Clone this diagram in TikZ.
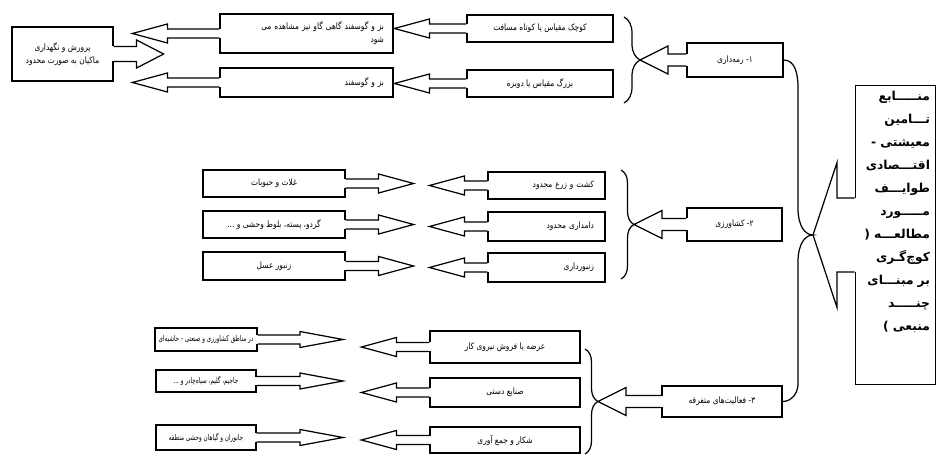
\documentclass[tikz,border=0pt]{standalone}
\usepackage{fontspec}
\newfontfamily\farsi[Script=Arabic]{DejaVu Sans}
\newfontfamily\farsicond[Script=Arabic,FakeStretch=0.85]{DejaVu Sans}
\newfontfamily\farsitight[Script=Arabic,FakeStretch=0.7]{DejaVu Sans}
\TeXXeTstate=1
\usepackage{tikz}
\usetikzlibrary{calc}
\usetikzlibrary{decorations.pathreplacing}
\newcommand{\fa}[1]{\mbox{\beginR #1\endR}}
% sizes of the hollow arrows
\def\arrsw{0.09cm}
\def\arrhw{0.19cm}
\def\arrhl{0.7cm}
\newcommand{\hollowarrow}[2]{%
  \fill[white] ($(#1)!-1pt!(#2)+(0,\arrsw)$) rectangle ($(#2)!\arrhl!(#1)+(0,-\arrsw)$);
  \draw ($(#1)+(0,\arrsw)$) -- ($(#2)!\arrhl!(#1)+(0,\arrsw)$) -- ($(#2)!\arrhl!(#1)+(0,\arrhw)$)
    -- (#2) -- ($(#2)!\arrhl!(#1)+(0,-\arrhw)$) -- ($(#2)!\arrhl!(#1)+(0,-\arrsw)$) -- ($(#1)+(0,-\arrsw)$);
}
\tikzset{
box/.style={
  draw,
  fill=white,
  rectangle,
  inner sep=2pt,
  align=center,
  font=\farsicond\fontsize{5}{7.5}\selectfont
},
tightbox/.style={box, font=\farsitight\fontsize{4.6}{7}\selectfont},
wh/.style 2 args={minimum width=#1*0.02cm, minimum height=#2*0.02cm},
srcbox/.style={
  draw,
  fill=white,
  rectangle,
  align=right,
  text width=1.38cm,
  font=\farsi\bfseries\fontsize{7}{13.1}\selectfont
},
curly/.style={decorate, decoration={brace, amplitude=#1}},
}

\begin{document}
\begin{tikzpicture}[x=0.02cm, y=-0.02cm, line width=0.7pt, line join=miter]
\useasboundingbox (0,0) rectangle (939,455);
% the boxes
\node[box, wh={101}{54}] (L0) at (62.5,54) {\fa{پرورش و نگهداری}\\\fa{ماکیان به صورت محدود}};
\node[box, wh={173}{39}, align=right, text width=3.1cm] (T1) at (306.5,33.5) {\fa{بز و گوسفند گاهی گاو نیز مشاهده می}\\\fa{شود}};
\node[box, wh={173}{29}, align=right, text width=3.1cm] (T2) at (306.5,82.5) {\fa{بز و گوسفند}};
\node[box, wh={146}{27}] (T3) at (540,28.5) {\fa{کوچک مقیاس یا کوتاه مسافت}};
\node[box, wh={146}{27}] (T4) at (540,83.5) {\fa{بزرگ مقیاس یا دوبره}};
\node[box, wh={96}{34}] (R1) at (735,60) {\fa{۱- رمه‌داری}};
\node[box, wh={142}{27}] (M1) at (274,183.5) {\fa{غلات و حبوبات}};
\node[box, wh={142}{27}] (M2) at (274,224.5) {\fa{گردو، پسته، بلوط وحشی و ...}};
\node[box, wh={142}{28}] (M3) at (274,266) {\fa{زنبور عسل}};
\node[box, wh={117}{27}, align=right, text width=1.9cm] (N1) at (546.5,185.5) {\fa{کشت و زرع محدود}};
\node[box, wh={117}{29}, align=right, text width=1.9cm] (N2) at (546.5,226.5) {\fa{دامداری محدود}};
\node[box, wh={117}{29}, align=right, text width=1.9cm] (N3) at (546.5,267.5) {\fa{زنبورداری}};
\node[box, wh={95}{33}] (R2) at (734.5,224.5) {\fa{۲- کشاورزی}};
\node[tightbox, wh={100}{23}] (B1) at (206,339.5) {\fa{در مناطق کشاورزی و صنعتی - حاشیه‌ای}};
\node[tightbox, wh={100}{22}] (B2) at (206,381) {\fa{جاجیم، گلیم، سیاه‌چادر و ...}};
\node[tightbox, wh={100}{25}] (B3) at (206,437.5) {\fa{جانوران و گیاهان وحشی منطقه}};
\node[box, wh={150}{32}] (S1) at (505,347) {\fa{عرضه یا فروش نیروی کار}};
\node[box, wh={150}{29}] (S2) at (505,392.5) {\fa{صنایع دستی}};
\node[box, wh={150}{26}] (S3) at (505,440) {\fa{شکار و جمع آوری}};
\node[box, wh={120}{31}] (R3) at (722,401.5) {\fa{۳- فعالیت‌های متفرقه}};
\node[srcbox, minimum width=77*0.02cm, minimum height=290*0.02cm] (src) at (895.5,235)
  {\fa{منـــــابع}\\\fa{تـــامین}\\\fa{معیشتی -}\\\fa{اقتـــصادی}\\\fa{طوایـــف}\\\fa{مـــــورد}\\
   \fa{مطالعـــه (}\\\fa{کوچ‌گـری}\\\fa{بر مبنـــای}\\\fa{چنـــــد}\\\fa{منبعی )}\\[14pt]\mbox{}};
% the brace tips
\coordinate (tip0) at (813,235);
\coordinate (tip1) at (640,60);
\coordinate (tip2) at (634,224.5);
\coordinate (tip3) at (598,401.5);
% the arrow tips
\coordinate (B1-tip) at (343,339.5);
\coordinate (B2-tip) at (343,381);
\coordinate (B3-tip) at (343,437.5);
% the braces
\draw[curly=0.32cm] (624,17) -- (624,103);
\draw[curly=0.26cm] (621,170) -- (621,279);
\draw[curly=0.26cm] (585,349) -- (585,454);
\draw (R1.east) to[out=0,in=90] (798,88) -- (798,208)
  .. controls (798,226) and (805,235) .. (tip0)
  .. controls (805,235) and (798,244) .. (798,262) -- (798,384) to[out=-90,in=0] (R3.east);
% the arrows
\foreach \n in {T3,T4} {\coordinate (\n-tip) at ($(\n.west)+(-1.44cm,0)$); \hollowarrow{\n.west}{\n-tip}}
\foreach \n in {T1,T2} {\coordinate (\n-tip) at ($(\n.west)+(-1.74cm,0)$); \hollowarrow{\n.west}{\n-tip}}
\foreach \n in {M1,M2,M3} {\coordinate (\n-tip) at ($(\n.east)+(1.36cm,0)$); \hollowarrow{\n.east}{\n-tip}}
\foreach \n in {N1,N2,N3} {\coordinate (\n-tip) at ($(\n.west)+(-1.16cm,0)$); \hollowarrow{\n.west}{\n-tip}}
\foreach \n in {S1,S2,S3} {\coordinate (\n-tip) at ($(\n.west)+(-1.36cm,0)$); \hollowarrow{\n.west}{\n-tip}}
\begin{scope}
\def\arrhl{0.86cm}
\def\arrhw{0.16cm}
\hollowarrow{B1.east}{B1-tip}
\hollowarrow{B2.east}{B2-tip}
\hollowarrow{B3.east}{B3-tip}
\end{scope}
\begin{scope}
\def\arrsw{0.15cm}
\def\arrhw{0.28cm}
\def\arrhl{0.54cm}
\coordinate (L0-tip) at ($(L0.east)+(1cm,0)$);
\hollowarrow{L0.east}{L0-tip}
\end{scope}
\begin{scope}
\def\arrsw{0.12cm}
\def\arrhw{0.28cm}
\def\arrhl{0.56cm}
\hollowarrow{R1.west}{tip1}
\hollowarrow{R2.west}{tip2}
\hollowarrow{R3.west}{tip3}
\end{scope}
\begin{scope}
\def\arrsw{0.74cm}
\def\arrhw{1.45cm}
\def\arrhl{0.48cm}
\hollowarrow{src.west}{tip0}
\end{scope}
\end{tikzpicture}
\end{document}
